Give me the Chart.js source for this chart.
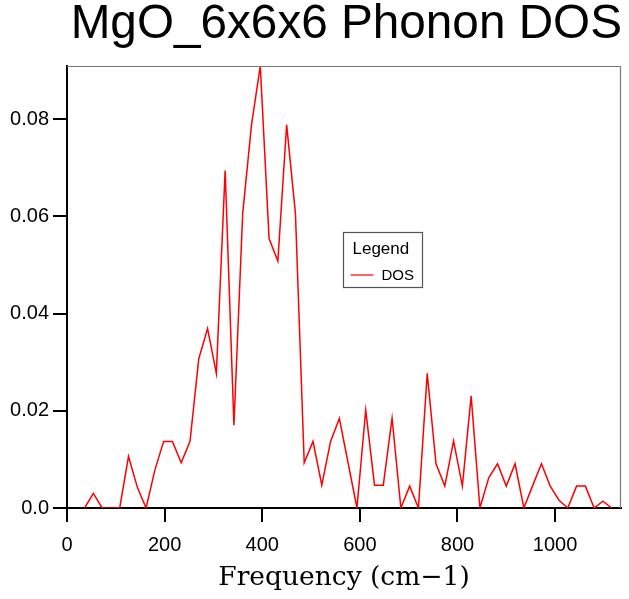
<!DOCTYPE html>
<html>
<head>
<meta charset="utf-8">
<script src="https://cdn.jsdelivr.net/npm/chart.js@4/dist/chart.umd.min.js"></script>
<style>
  html, body { margin: 0; padding: 0; background: #fff; }
  #wrap { width: 629px; height: 599px; }
</style>
</head>
<body>
<div id="wrap"><canvas id="c" width="629" height="599"></canvas></div>
<script>
const chartTitle = "MgO_6x6x6 Phonon DOS";
const xTitle = "Frequency (cm\u22121)";
const seriesName = "DOS";
const legendTitle = "Legend";

const freqs = [36, 54, 72, 90, 108, 126, 144, 162, 180, 198, 216, 234, 252, 270, 288, 306, 324, 342, 360, 378,
  396, 414, 432, 450, 468, 486, 504, 522, 540, 558, 576, 594, 612, 630, 648, 666, 684, 702, 720, 738,
  756, 774, 792, 810, 828, 846, 864, 882, 900, 918, 936, 954, 972, 990, 1008, 1026, 1044, 1062, 1080, 1098, 1116];

const dos = [0, 0.0030, 0, 0, 0, 0.0106, 0.0043, 0, 0.0078, 0.0137, 0.0137, 0.0093, 0.0137, 0.0307, 0.0369, 0.0277,
  0.0694, 0.0170, 0.0606, 0.0788, 0.0909, 0.0554, 0.0508, 0.0788, 0.0606, 0.0093, 0.0137, 0.0047, 0.0137, 0.0184,
  0.0092, 0, 0.0201, 0.0047, 0.0047, 0.0185, 0, 0.0045, 0, 0.0277, 0.0091, 0.0045, 0.0138, 0.0045, 0.0230, 0,
  0.0062, 0.0091, 0.0045, 0.0091, 0, 0.0046, 0.0091, 0.0045, 0.0016, 0, 0.0045, 0.0045, 0, 0.0014, 0];

const xTickLabels = ["0", "200", "400", "600", "800", "1000"];
const yTickLabels = ["0.0", "0.02", "0.04", "0.06", "0.08"];

const lineColor = '#ff0000';

const framePlugin = {
  id: 'frame',
  afterDraw(chart) {
    const ctx = chart.ctx;
    const a = chart.chartArea;
    ctx.save();
    // top & right frame
    ctx.strokeStyle = '#7a7a7a';
    ctx.lineWidth = 1.2;
    ctx.beginPath();
    ctx.moveTo(a.left, a.top + 0.5);
    ctx.lineTo(a.right - 0.5, a.top + 0.5);
    ctx.lineTo(a.right - 0.5, a.bottom);
    ctx.stroke();
    // main title
    ctx.fillStyle = '#000';
    ctx.font = '47.7px "Liberation Sans", Arial, sans-serif';
    ctx.textAlign = 'right';
    ctx.textBaseline = 'alphabetic';
    ctx.fillText(chartTitle, 622, 38);
    // legend box
    const bx = 343.5, by = 232.5, bw = 79, bh = 55;
    ctx.strokeStyle = '#555';
    ctx.lineWidth = 1.2;
    ctx.strokeRect(bx, by, bw, bh);
    ctx.textAlign = 'left';
    ctx.font = '17px "Liberation Sans", Arial, sans-serif';
    ctx.fillText(legendTitle, 352.5, 254);
    ctx.font = '15px "Liberation Sans", Arial, sans-serif';
    ctx.fillText(seriesName, 381.5, 280);
    ctx.strokeStyle = lineColor;
    ctx.lineWidth = 1.2;
    ctx.beginPath();
    ctx.moveTo(350.5, 275);
    ctx.lineTo(373.5, 275);
    ctx.stroke();
    ctx.restore();
  }
};

const tickFont = { family: '"Liberation Sans", Arial, sans-serif', size: 20 };

new Chart(document.getElementById('c'), {
  type: 'line',
  data: {
    datasets: [{
      label: seriesName,
      data: freqs.map((f, i) => ({ x: f, y: dos[i] })),
      borderColor: lineColor,
      borderWidth: 1.5,
      pointRadius: 0,
      tension: 0,
      fill: false
    }]
  },
  options: {
    responsive: false,
    animation: false,
    devicePixelRatio: 1,
    layout: { padding: { top: 66, right: 8, left: 0, bottom: 0 } },
    plugins: { legend: { display: false }, title: { display: false }, tooltip: { enabled: false } },
    scales: {
      x: {
        type: 'linear', min: 0, max: 1135, z: 1,
        afterFit(s) { s.height = 91; },
        ticks: {
          stepSize: 200, includeBounds: false, autoSkip: false, maxRotation: 0,
          color: '#000', font: tickFont, padding: 11,
          callback: v => xTickLabels[Math.round(v / 200)]
        },
        grid: { drawOnChartArea: false, tickLength: 14, color: '#000', lineWidth: 2 },
        border: { color: '#000', width: 2 },
        title: {
          display: true, text: xTitle, color: '#000',
          font: { family: '"DejaVu Serif", serif', size: 26.5, weight: 'normal' },
          padding: { top: 0, bottom: 5 }
        }
      },
      y: {
        type: 'linear', min: 0, max: 0.0909, z: 1,
        afterFit(s) { s.width = 67; },
        ticks: {
          stepSize: 0.02, includeBounds: false, autoSkip: false,
          color: '#000', font: tickFont, padding: 4,
          callback: v => yTickLabels[Math.round(v / 0.02)]
        },
        grid: { drawOnChartArea: false, tickLength: 14, color: '#000', lineWidth: 2 },
        border: { color: '#000', width: 2 }
      }
    }
  },
  plugins: [framePlugin]
});
</script>
</body>
</html>
